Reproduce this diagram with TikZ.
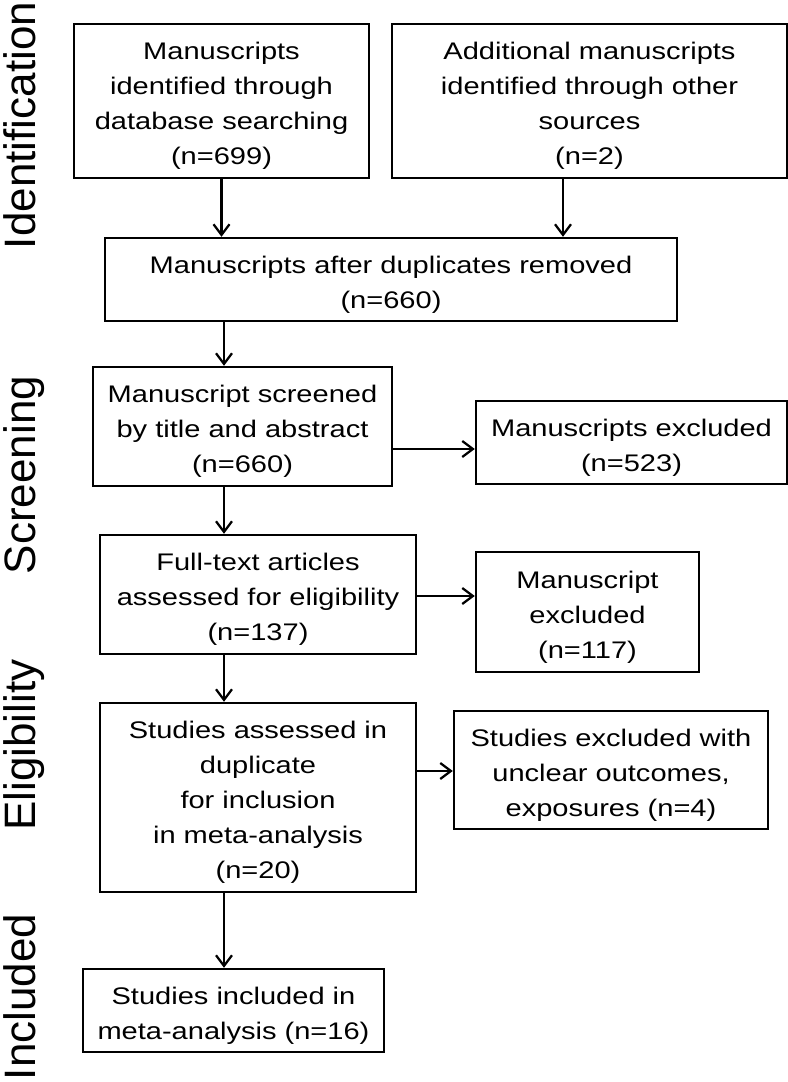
\documentclass[tikz,border=0pt]{standalone}
\usepackage{fontspec}
\setmainfont{Liberation Sans}
\newfontfamily\boxfont[FakeStretch=1.21]{Liberation Sans}
\usetikzlibrary{arrows.meta}
\newcommand\mystrut{\rule{0pt}{20.5pt}}
\tikzset{
  box/.style={draw=black, line width=1.8pt, inner sep=0pt, align=center,
    font=\boxfont\fontsize{18pt}{26.25pt}\selectfont},
  arr/.style={line width=1.7pt, -{Straight Barb[length=8pt,width=12pt]}},
  side/.style={rotate=90, anchor=base, inner sep=0pt,
    font=\fontsize{33pt}{38pt}\selectfont}
}
\begin{document}
\begin{tikzpicture}[x=0.75pt,y=-0.75pt]
\useasboundingbox (0,0) rectangle (788,1082);
% side labels
\node[side] (lid) at (36,125.5) {Identification};
\node[side] (lsc) at (36,475) {Screening};
\node[side] (lel) at (36,745) {Eligibility};
\node[side] (lin) at (36,997) {Included};
% boxes
\node[box, minimum width=221.25pt, minimum height=115.5pt] (b1) at (221.5,101)
  {\mystrut Manuscripts\\identified through\\database searching\\(n=699)};
\node[box, minimum width=296.25pt, minimum height=115.5pt] (b2) at (589.5,101)
  {\mystrut Additional manuscripts\\identified through other\\sources\\(n=2)};
\node[box, minimum width=429pt, minimum height=62.25pt] (b3) at (391,279.5)
  {\mystrut Manuscripts after duplicates removed\\(n=660)};
\node[box, minimum width=224.25pt, minimum height=89.25pt] (b4) at (242.5,426.5)
  {\mystrut Manuscript screened\\by title and abstract\\(n=660)};
\node[box, minimum width=233.25pt, minimum height=62.25pt] (b5) at (631.5,442.5)
  {\mystrut Manuscripts excluded\\(n=523)};
\node[box, minimum width=237pt, minimum height=89.25pt] (b6) at (258,594.5)
  {\mystrut Full-text articles\\assessed for eligibility\\(n=137)};
\node[box, minimum width=167.25pt, minimum height=90pt] (b7) at (587.5,612)
  {\mystrut Manuscript\\excluded\\(n=117)};
\node[box, minimum width=237pt, minimum height=141.75pt] (b8) at (258,797.5)
  {\mystrut Studies assessed in\\duplicate\\for inclusion\\in meta-analysis\\(n=20)};
\node[box, minimum width=235.5pt, minimum height=88.5pt] (b9) at (611,770)
  {\mystrut Studies excluded with\\unclear outcomes,\\exposures (n=4)};
\node[box, minimum width=225.75pt, minimum height=62.25pt] (b10) at (233.5,1010.5)
  {\mystrut Studies included in\\meta-analysis (n=16)};
% helper coordinates
\coordinate (ax) at (224,0);
\coordinate (c2) at (563,0);
\coordinate (h1) at (0,449);
\coordinate (h2) at (0,596);
\coordinate (h3) at (0,771);
% connectors
\draw[arr] (b1.south) -- (b1.south |- b3.north);
\draw[arr] (b2.south -| c2) -- (b3.north -| c2);
\draw[arr] (b3.south -| ax) -- (b4.north -| ax);
\draw[arr] (b4.south -| ax) -- (b6.north -| ax);
\draw[arr] (b6.south -| ax) -- (b8.north -| ax);
\draw[arr] (b8.south -| ax) -- (b10.north -| ax);
\draw[arr] (b4.east |- h1) -- (b5.west |- h1);
\draw[arr] (b6.east |- h2) -- (b7.west |- h2);
\draw[arr] (b8.east |- h3) -- (b9.west |- h3);
\end{tikzpicture}
\end{document}
